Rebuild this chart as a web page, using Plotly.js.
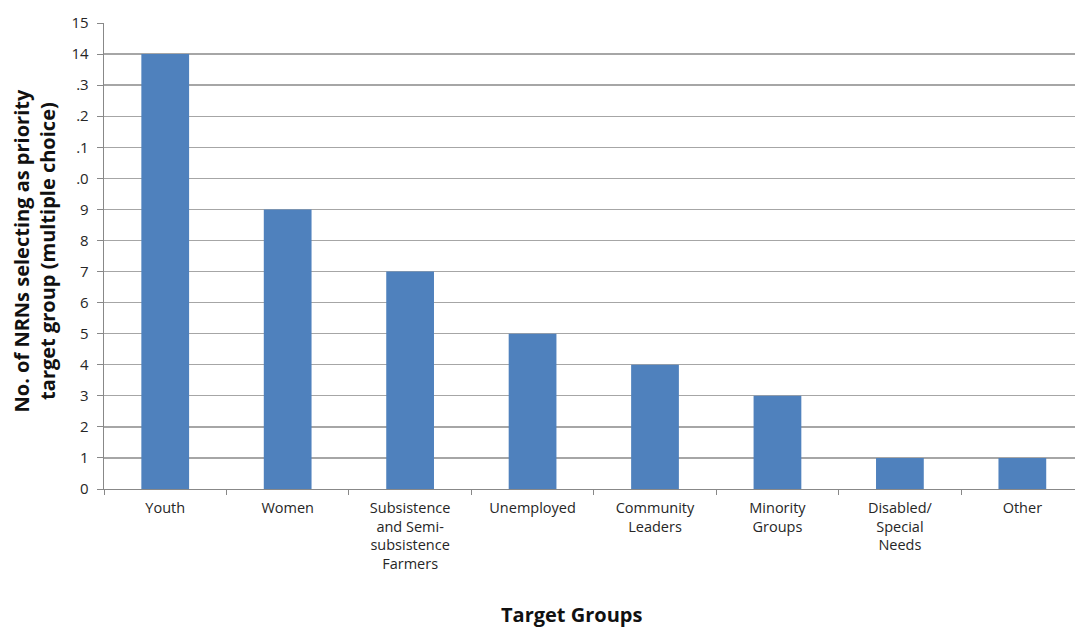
<!DOCTYPE html>
<html><head><meta charset="utf-8">
<script src="https://cdn.plot.ly/plotly-3.0.1.min.js"></script>
<style>html,body{margin:0;padding:0;background:#fff;overflow:hidden}#chart{width:1075px;height:627px}</style>
</head><body><div id="chart"></div>
<script>
const categories = ["Youth","Women","Subsistence<br>and Semi-<br>subsistence<br>Farmers","Unemployed","Community<br>Leaders","Minority<br>Groups","Disabled/<br>Special<br>Needs","Other"];
const values = [14, 9, 7, 5, 4, 3, 1, 1];
const yTickVals = [0,1,2,3,4,5,6,7,8,9,10,11,12,13,14,15];
const yTickText = ["0","1","2","3","4","5","6","7","8","9",".0",".1",".2",".3","14","15"];

const fontFam = "'Open Sans', Lato, sans-serif";
const trace = {
  type: "bar",
  x: categories,
  y: values,
  marker: {color: "#4F81BD"},
  hoverinfo: "x+y"
};
const layout = {
  width: 1075, height: 627,
  margin: {l: 104, r: 0, t: 23, b: 138},
  paper_bgcolor: "#fff", plot_bgcolor: "#fff",
  showlegend: false,
  bargap: 0.61,
  font: {family: fontFam, color: "#262626"},
  xaxis: {
    range: [-0.5, 7.43],
    showline: true, linecolor: "#888", linewidth: 1.3,
    ticks: "outside", ticklen: 5, tickcolor: "#888", tickson: "boundaries",
    ticklabelstandoff: 5,
    tickfont: {size: 14.5, family: fontFam, color: "#262626"},
    showgrid: false, automargin: false, tickangle: 0
  },
  yaxis: {
    range: [0, 15],
    tickvals: yTickVals, ticktext: yTickText,
    showline: true, linecolor: "#888", linewidth: 1.3,
    ticks: "outside", ticklen: 6, tickcolor: "#888",
    ticklabelstandoff: 5,
    showgrid: true, gridcolor: "#a6a6a6", gridwidth: 1.3,
    zeroline: false,
    tickfont: {size: 15, family: fontFam, color: "#262626"},
    automargin: false
  },
  annotations: [{
    text: "<b>Target Groups</b>", xref: "paper", yref: "paper",
    x: 0.481, y: -0.27, yanchor: "middle", xanchor: "center", showarrow: false,
    font: {size: 20, family: fontFam, color: "#111"}
  }, {
    text: "<b>No. of NRNs selecting as priority<br>target group (multiple choice)</b>",
    xref: "paper", yref: "paper", textangle: -90,
    x: (34 - 104) / 971, y: 0.5097, xanchor: "center", yanchor: "middle", showarrow: false,
    font: {size: 20, family: fontFam, color: "#111"}
  }]
};
Plotly.newPlot("chart", [trace], layout, {displayModeBar: false, staticPlot: true});
</script></body></html>
